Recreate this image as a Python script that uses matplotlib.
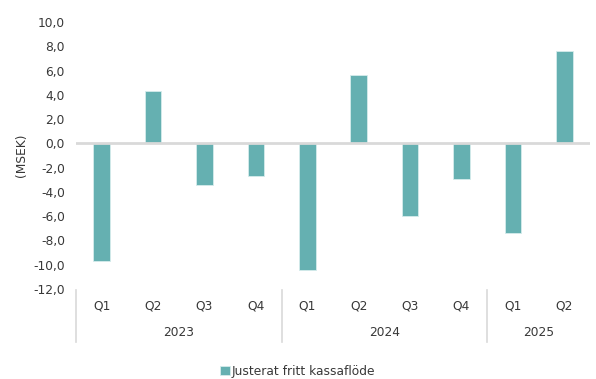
import matplotlib
matplotlib.use("Agg")
import matplotlib.pyplot as plt
import matplotlib.transforms as mtransforms
from matplotlib.ticker import FuncFormatter

# data
quarters = ["Q1", "Q2", "Q3", "Q4", "Q1", "Q2", "Q3", "Q4", "Q1", "Q2"]
years = ["2023", "2024", "2025"]
quarters_per_year = [4, 4, 2]
cash_flow = [-9.7, 4.3, -3.4, -2.7, -10.4, 5.6, -6.0, -2.9, -7.4, 7.6]
series_name = "Justerat fritt kassaflöde"

plt.rcParams['font.family'] = ['DejaVu Sans']
bar_color = "#65b0b1"
grey = "#d9d9d9"
text_color = "#383838"
fs = 8.8

fig = plt.figure(figsize=(5.96, 3.79), dpi=100)
ax = fig.add_axes([76 / 596, 1 - 289 / 379, 514 / 596, 267 / 379])

x = list(range(len(cash_flow)))
ax.bar(x, cash_flow, width=0.32, color=bar_color, edgecolor="#d6ecec",
       linewidth=0.6, label=series_name, zorder=2)
ax.axhline(0, color=grey, linewidth=2, zorder=3)

ax.set_xlim(-0.5, len(cash_flow) - 0.5)
ax.set_ylim(-12, 10)
ax.set_yticks(range(-12, 11, 2))
ax.yaxis.set_major_formatter(FuncFormatter(lambda v, p: f"{v:.1f}".replace(".", ",")))
ax.tick_params(axis="y", length=0, labelsize=fs, labelcolor=text_color, pad=8)
ax.set_xticks([])
for s in ax.spines.values():
    s.set_visible(False)
ax.set_ylabel("(MSEK)", fontsize=fs, color=text_color, labelpad=4)

# two-level category axis below the plot
trans = mtransforms.blended_transform_factory(ax.transData, fig.transFigure)
y_q = 1 - 306 / 379
y_year = 1 - 332 / 379
for i, q in enumerate(quarters):
    ax.text(i, y_q, q, transform=trans, ha="center", va="center",
            fontsize=fs, color=text_color)

start = 0
bounds = [start]
for y_lab, n in zip(years, quarters_per_year):
    mid = start + (n - 1) / 2
    ax.text(mid, y_year, y_lab, transform=trans, ha="center", va="center",
            fontsize=fs, color=text_color)
    start += n
    bounds.append(start)

for b in bounds[:-1]:
    ax.plot([b - 0.5, b - 0.5], [1 - 290 / 379, 1 - 342 / 379], transform=trans,
            color=grey, linewidth=1.2, clip_on=False)

fig.legend(loc="center", bbox_to_anchor=(0.5, 1 - 371 / 379), frameon=False,
           fontsize=fs, handlelength=0.8, handleheight=0.8, handletextpad=0.15,
           labelcolor=text_color)

fig.savefig("out.png", dpi=100)
